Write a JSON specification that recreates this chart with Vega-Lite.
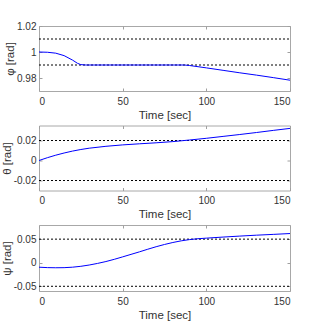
{
  "$schema": "https://vega.github.io/schema/vega-lite/v6.json",
  "padding": {"top": 20, "left": 0, "right": 0, "bottom": 0},
  "bounds": "flush",
  "spacing": 34.5,
  "background": "white",
  "config": {
    "font": "Liberation Sans",
    "view": {"stroke": "#a8a8a8", "strokeWidth": 1},
    "axis": {
      "grid": false, "domain": false, "tickColor": "#a0a0a0", "tickSize": -3, "tickWidth": 1,
      "labelFont": "Liberation Sans", "labelFontSize": 10, "labelColor": "#333333",
      "titleFont": "Liberation Sans", "titleFontSize": 11.5, "titleFontWeight": "normal", "titleColor": "#333333",
      "labelExpr": "'' + datum.value"
    },
    "axisX": {"labelPadding": 8, "titlePadding": 3},
    "axisY": {"labelPadding": 6, "titlePadding": 1}
  },
  "datasets": {
    "phi": [
      {"t": 0, "v": 1.0}, {"t": 5, "v": 0.9998}, {"t": 10, "v": 0.9991}, {"t": 15, "v": 0.9972}, {"t": 20, "v": 0.9938},
      {"t": 23, "v": 0.9913}, {"t": 25, "v": 0.9903}, {"t": 28, "v": 0.99}, {"t": 40, "v": 0.99}, {"t": 60, "v": 0.99},
      {"t": 80, "v": 0.99}, {"t": 87, "v": 0.99}, {"t": 90, "v": 0.9896}, {"t": 100, "v": 0.9878}, {"t": 110, "v": 0.9859},
      {"t": 120, "v": 0.9840}, {"t": 130, "v": 0.9822}, {"t": 140, "v": 0.9803}, {"t": 150, "v": 0.9783}
    ],
    "theta": [
      {"t": 0, "v": 0.0}, {"t": 5, "v": 0.0028}, {"t": 10, "v": 0.0053}, {"t": 15, "v": 0.0075}, {"t": 20, "v": 0.0094},
      {"t": 25, "v": 0.011}, {"t": 30, "v": 0.0123}, {"t": 40, "v": 0.0142}, {"t": 50, "v": 0.0156}, {"t": 60, "v": 0.0167},
      {"t": 70, "v": 0.0177}, {"t": 80, "v": 0.0189}, {"t": 90, "v": 0.0205}, {"t": 100, "v": 0.0222}, {"t": 110, "v": 0.0241},
      {"t": 120, "v": 0.026}, {"t": 130, "v": 0.028}, {"t": 140, "v": 0.0301}, {"t": 150, "v": 0.0321}
    ],
    "psi": [
      {"t": 0, "v": -0.0095}, {"t": 5, "v": -0.0104}, {"t": 10, "v": -0.0107}, {"t": 15, "v": -0.0105}, {"t": 20, "v": -0.0095},
      {"t": 25, "v": -0.0076}, {"t": 30, "v": -0.0049}, {"t": 35, "v": -0.0015}, {"t": 40, "v": 0.0025}, {"t": 45, "v": 0.0072},
      {"t": 50, "v": 0.0124}, {"t": 55, "v": 0.0177}, {"t": 60, "v": 0.0230}, {"t": 65, "v": 0.0286}, {"t": 70, "v": 0.0339},
      {"t": 75, "v": 0.0387}, {"t": 80, "v": 0.0429}, {"t": 85, "v": 0.0464}, {"t": 90, "v": 0.0491}, {"t": 95, "v": 0.0509},
      {"t": 100, "v": 0.0521}, {"t": 110, "v": 0.0544}, {"t": 120, "v": 0.0565}, {"t": 130, "v": 0.0584}, {"t": 140, "v": 0.0601},
      {"t": 150, "v": 0.0619}
    ]
  },
  "vconcat": [
    {
      "width": 251, "height": 65,
      "resolve": {"axis": {"x": "independent", "y": "independent"}},
      "layer": [
        {
          "data": {"values": [{"y": 1.01}, {"y": 0.99}]},
          "mark": {"type": "rule", "color": "black", "strokeDash": [2, 2], "strokeWidth": 1},
          "encoding": {
            "x": {"datum": 0, "type": "quantitative", "scale": {"domain": [0, 150], "nice": false}, "axis": {"orient": "top", "labels": false, "title": null, "values": [0, 50, 100, 150]}},
            "x2": {"datum": 150},
            "y": {"field": "y", "type": "quantitative", "scale": {"domain": [0.97, 1.02], "nice": false, "zero": false}, "axis": {"orient": "right", "labels": false, "title": null, "values": [0.98, 1, 1.02]}}
          }
        },
        {
          "data": {"name": "phi"},
          "mark": {"type": "line", "color": "#0000ff", "strokeWidth": 1},
          "encoding": {
            "x": {"field": "t", "type": "quantitative", "scale": {"domain": [0, 150], "nice": false}, "axis": {"title": "Time [sec]", "values": [0, 50, 100, 150]}},
            "y": {"field": "v", "type": "quantitative", "scale": {"domain": [0.97, 1.02], "nice": false, "zero": false}, "axis": {"title": "φ [rad]", "values": [0.98, 1, 1.02]}}
          }
        }
      ]
    },
    {
      "width": 251, "height": 65,
      "resolve": {"axis": {"x": "independent", "y": "independent"}},
      "layer": [
        {
          "data": {"values": [{"y": 0.02}, {"y": -0.02}]},
          "mark": {"type": "rule", "color": "black", "strokeDash": [2, 2], "strokeWidth": 1},
          "encoding": {
            "x": {"datum": 0, "type": "quantitative", "scale": {"domain": [0, 150], "nice": false}, "axis": {"orient": "top", "labels": false, "title": null, "values": [0, 50, 100, 150]}},
            "x2": {"datum": 150},
            "y": {"field": "y", "type": "quantitative", "scale": {"domain": [-0.03, 0.035], "nice": false, "zero": false}, "axis": {"orient": "right", "labels": false, "title": null, "values": [-0.02, 0, 0.02]}}
          }
        },
        {
          "data": {"name": "theta"},
          "mark": {"type": "line", "color": "#0000ff", "strokeWidth": 1},
          "encoding": {
            "x": {"field": "t", "type": "quantitative", "scale": {"domain": [0, 150], "nice": false}, "axis": {"title": "Time [sec]", "values": [0, 50, 100, 150]}},
            "y": {"field": "v", "type": "quantitative", "scale": {"domain": [-0.03, 0.035], "nice": false, "zero": false}, "axis": {"title": "θ [rad]", "values": [-0.02, 0, 0.02]}}
          }
        }
      ]
    },
    {
      "width": 251, "height": 66,
      "resolve": {"axis": {"x": "independent", "y": "independent"}},
      "layer": [
        {
          "data": {"values": [{"y": 0.05}, {"y": -0.05}]},
          "mark": {"type": "rule", "color": "black", "strokeDash": [2, 2], "strokeWidth": 1},
          "encoding": {
            "x": {"datum": 0, "type": "quantitative", "scale": {"domain": [0, 150], "nice": false}, "axis": {"orient": "top", "labels": false, "title": null, "values": [0, 50, 100, 150]}},
            "x2": {"datum": 150},
            "y": {"field": "y", "type": "quantitative", "scale": {"domain": [-0.06, 0.08], "nice": false, "zero": false}, "axis": {"orient": "right", "labels": false, "title": null, "values": [-0.05, 0, 0.05]}}
          }
        },
        {
          "data": {"name": "psi"},
          "mark": {"type": "line", "color": "#0000ff", "strokeWidth": 1},
          "encoding": {
            "x": {"field": "t", "type": "quantitative", "scale": {"domain": [0, 150], "nice": false}, "axis": {"title": "Time [sec]", "values": [0, 50, 100, 150]}},
            "y": {"field": "v", "type": "quantitative", "scale": {"domain": [-0.06, 0.08], "nice": false, "zero": false}, "axis": {"title": "ψ [rad]", "values": [-0.05, 0, 0.05]}}
          }
        }
      ]
    }
  ]
}
